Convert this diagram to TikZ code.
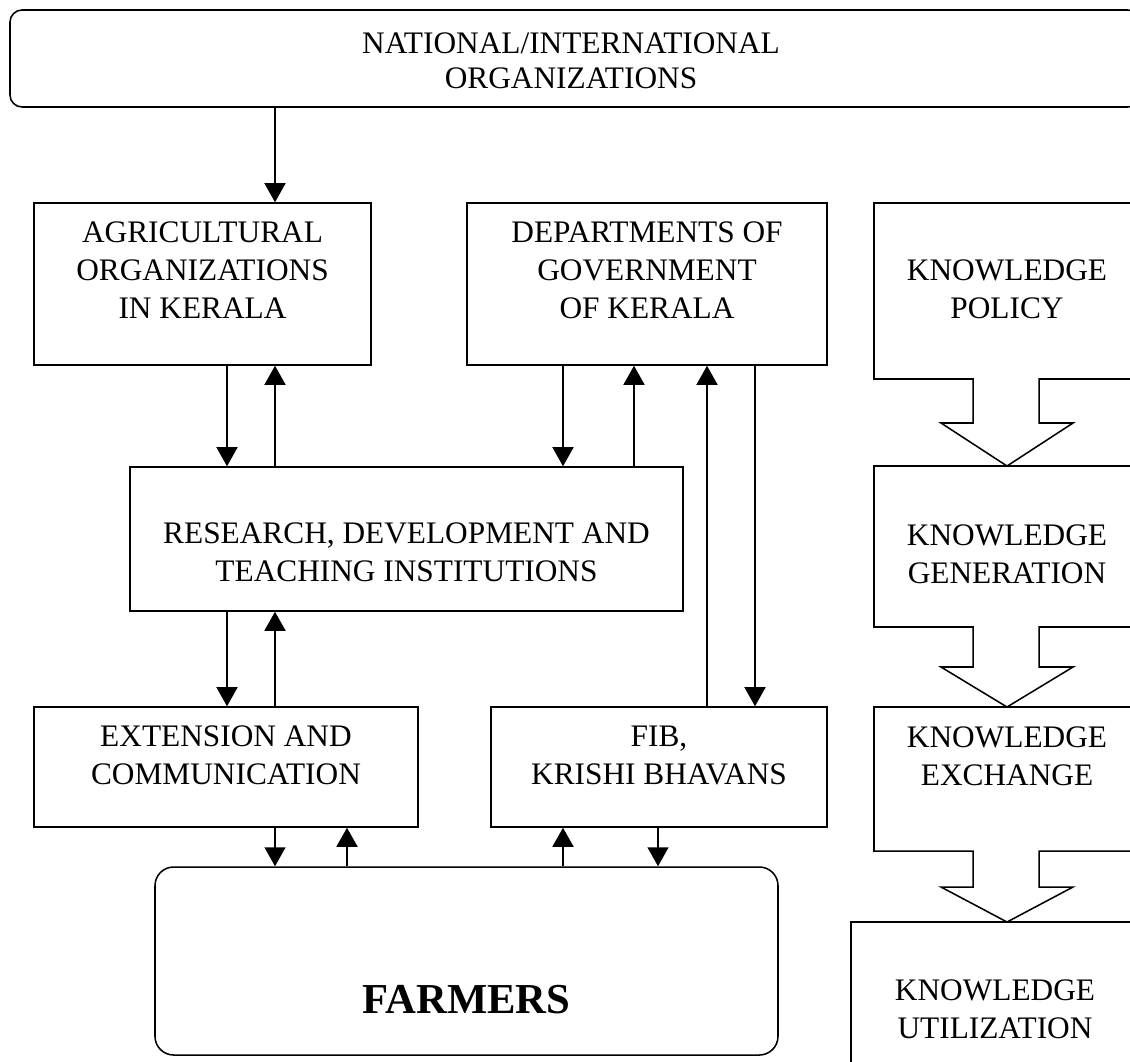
\documentclass[tikz,border=0pt]{standalone}
\usepackage{fontspec}
\setmainfont{Liberation Serif}
\usetikzlibrary{arrows.meta,calc}
\begin{document}
\begin{tikzpicture}[x=0.75pt,y=-0.75pt,line width=1.15pt,
  sz/.style 2 args={minimum width=#1*0.75pt,minimum height=#2*0.75pt},
  box/.style={draw,rectangle,inner sep=0pt},
  rbox/.style={box,rounded corners=#1},
  txt/.style={align=center,font=\fontsize{23.5pt}{28.5pt}\selectfont},
  bigtxt/.style={align=center,font=\fontsize{32pt}{38pt}\selectfont\bfseries},
  arr/.style={-{Triangle[width=15.75pt,length=14.25pt]}}]
\useasboundingbox (0,0) rectangle (1130,1061);
\clip (0,0) rectangle (1130,1061);

% institutional boxes
\node[rbox=9pt,sz={1130}{97},label={[txt,font=\fontsize{23.5pt}{26.5pt}\selectfont,xshift=-3pt,yshift=-1.5pt]center:{NATIONAL/INTERNATIONAL\\ORGANIZATIONS}}] (top) at (575,58.5) {};
\node[box,sz={337}{162},label={[txt,yshift=10.5pt]center:{AGRICULTURAL\\ORGANIZATIONS\\IN KERALA}}] (agri) at (202.5,284) {};
\node[box,sz={360}{162},label={[txt,yshift=10.5pt]center:{DEPARTMENTS OF\\GOVERNMENT\\OF KERALA}}] (dept) at (647,284) {};
\node[box,sz={553}{144},label={[txt,yshift=-9.75pt]center:{RESEARCH, DEVELOPMENT AND\\TEACHING INSTITUTIONS}}] (rdt) at (406.5,539) {};
\node[box,sz={384}{120},label={[txt,yshift=9pt]center:{EXTENSION AND\\COMMUNICATION}}] (ext) at (226,767) {};
\node[box,sz={336}{120},label={[txt,yshift=9pt]center:{FIB,\\KRISHI BHAVANS}}] (fib) at (659,767) {};
\node[rbox=14pt,sz={623}{188},label={[bigtxt,yshift=-29pt]center:{FARMERS}}] (farm) at (466.5,961) {};

% connectors
\draw[arr] (275,0 |- top.south) -- (275,0 |- agri.north);
\draw[arr] (227,0 |- agri.south) -- (227,0 |- rdt.north);
\draw[arr] (275,0 |- rdt.north) -- (275,0 |- agri.south);
\draw[arr] (563,0 |- dept.south) -- (563,0 |- rdt.north);
\draw[arr] (634,0 |- rdt.north) -- (634,0 |- dept.south);
\draw[arr] (707,0 |- fib.north) -- (707,0 |- dept.south);
\draw[arr] (755,0 |- dept.south) -- (755,0 |- fib.north);
\draw[arr] (227,0 |- rdt.south) -- (227,0 |- ext.north);
\draw[arr] (275,0 |- ext.north) -- (275,0 |- rdt.south);
\draw[arr] (275,0 |- ext.south) -- (275,0 |- farm.north);
\draw[arr] (347,0 |- farm.north) -- (347,0 |- ext.south);
\draw[arr] (563,0 |- farm.north) -- (563,0 |- fib.south);
\draw[arr] (658,0 |- fib.south) -- (658,0 |- farm.north);

% knowledge chain: boxes with block arrows
\draw (1145,203) -- (874,203) -- (874,379) -- (973,379) -- (973,423) -- (941,423)
  -- (1007,466) -- (1073,423) -- (1039,423) -- (1039,379) -- (1145,379);
\draw (1145,466) -- (874,466) -- (874,627) -- (973,627) -- (973,667) -- (941,667)
  -- (1007,707) -- (1073,667) -- (1039,667) -- (1039,627) -- (1145,627);
\draw (1145,707) -- (874,707) -- (874,851) -- (973,851) -- (973,887) -- (941,887)
  -- (1007,922) -- (1073,887) -- (1039,887) -- (1039,851) -- (1145,851);
\draw (1145,922) -- (851,922) -- (851,1075);

\node[txt] (kpol) at (1007,289.5) {KNOWLEDGE\\POLICY};
\node[txt] (kgen) at (1007,554) {KNOWLEDGE\\GENERATION};
\node[txt] (kexc) at (1007,756) {KNOWLEDGE\\EXCHANGE};
\node[txt] (kuti) at (995,1009) {KNOWLEDGE\\UTILIZATION};
\end{tikzpicture}
\end{document}
